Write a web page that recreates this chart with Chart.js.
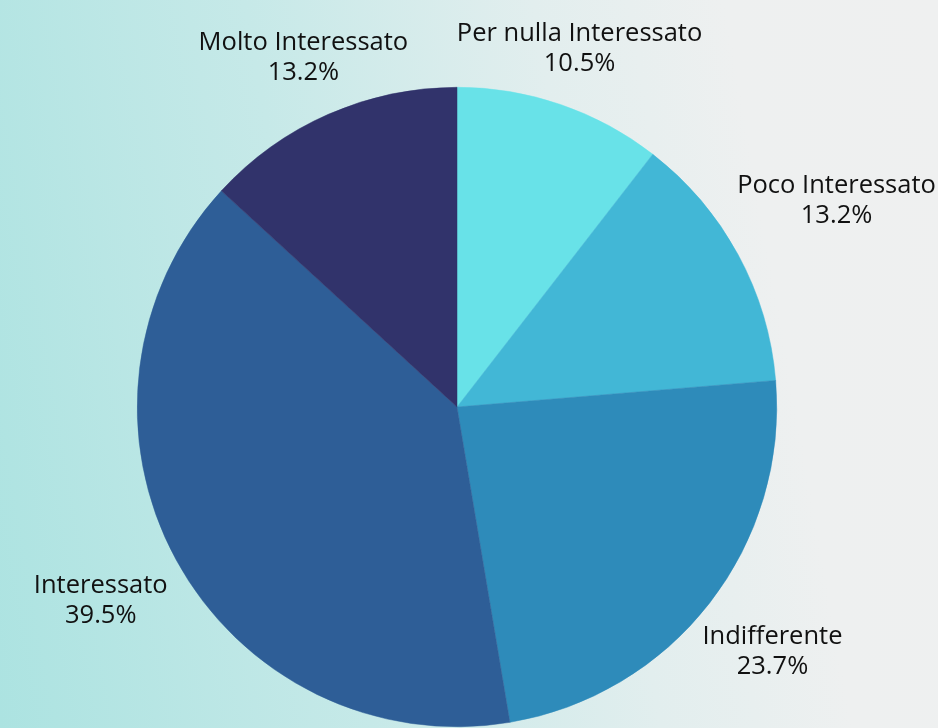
<!DOCTYPE html>
<html>
<head>
<meta charset="utf-8">
<script src="https://cdn.jsdelivr.net/npm/chart.js@4/dist/chart.umd.min.js"></script>
<style>
  html, body { margin: 0; padding: 0; }
  body {
    width: 938px; height: 728px; overflow: hidden;
    background: linear-gradient(80deg, #ace3e1 0%, #c6e9e8 35%, #e2eeee 62%, #eef0f0 80%, #eff0f0 100%);
  }
  #wrap { position: relative; width: 938px; height: 728px; }
</style>
</head>
<body>
<div id="wrap"><canvas id="pie"></canvas></div>
<script>
const labels = ["Per nulla Interessato", "Poco Interessato", "Indifferente", "Interessato", "Molto Interessato"];
const values = [10.5, 13.2, 23.7, 39.5, 13.2];
const colors = ["#68e2e8", "#42b7d6", "#2e8bba", "#2e5e97", "#31336b"];

const FONT = '25.5px "Open Sans"';
const LINE_H = 30;

// draws "label\nxx.x%" outside each slice; distance grows with the text's
// horizontal extent so wide labels on the sides clear the rim
const outsideLabels = {
  id: "outsideLabels",
  afterDatasetsDraw(chart) {
    const ctx = chart.ctx;
    const meta = chart.getDatasetMeta(0);
    ctx.save();
    ctx.font = FONT;
    ctx.fillStyle = "#111111";
    ctx.textAlign = "center";
    ctx.textBaseline = "middle";
    meta.data.forEach((arc, i) => {
      const mid = (arc.startAngle + arc.endAngle) / 2;
      const dx = Math.cos(mid), dy = Math.sin(mid);
      const lines = [labels[i], values[i].toFixed(1) + "%"];
      const w = Math.max(...lines.map((l) => ctx.measureText(l).width));
      const r = arc.outerRadius + 0.93 * (w / 2) * Math.abs(dx) - 19 * Math.abs(dy) + 40;
      const cx = arc.x + dx * r;
      const cy = arc.y + dy * r;
      lines.forEach((l, k) => {
        ctx.fillText(l, cx, cy + (k - (lines.length - 1) / 2) * LINE_H);
      });
    });
    ctx.restore();
  },
};

new Chart(document.getElementById("pie"), {
  type: "pie",
  data: {
    labels,
    datasets: [{
      data: values,
      backgroundColor: colors,
      borderColor: colors,
      borderWidth: 0.5,
    }],
  },
  options: {
    responsive: true,
    maintainAspectRatio: false,
    animation: false,
    layout: { padding: { top: 87, bottom: 1, left: 137, right: 161 } },
    plugins: {
      legend: { display: false },
      tooltip: { enabled: false },
    },
  },
  plugins: [outsideLabels],
});
</script>
</body>
</html>
